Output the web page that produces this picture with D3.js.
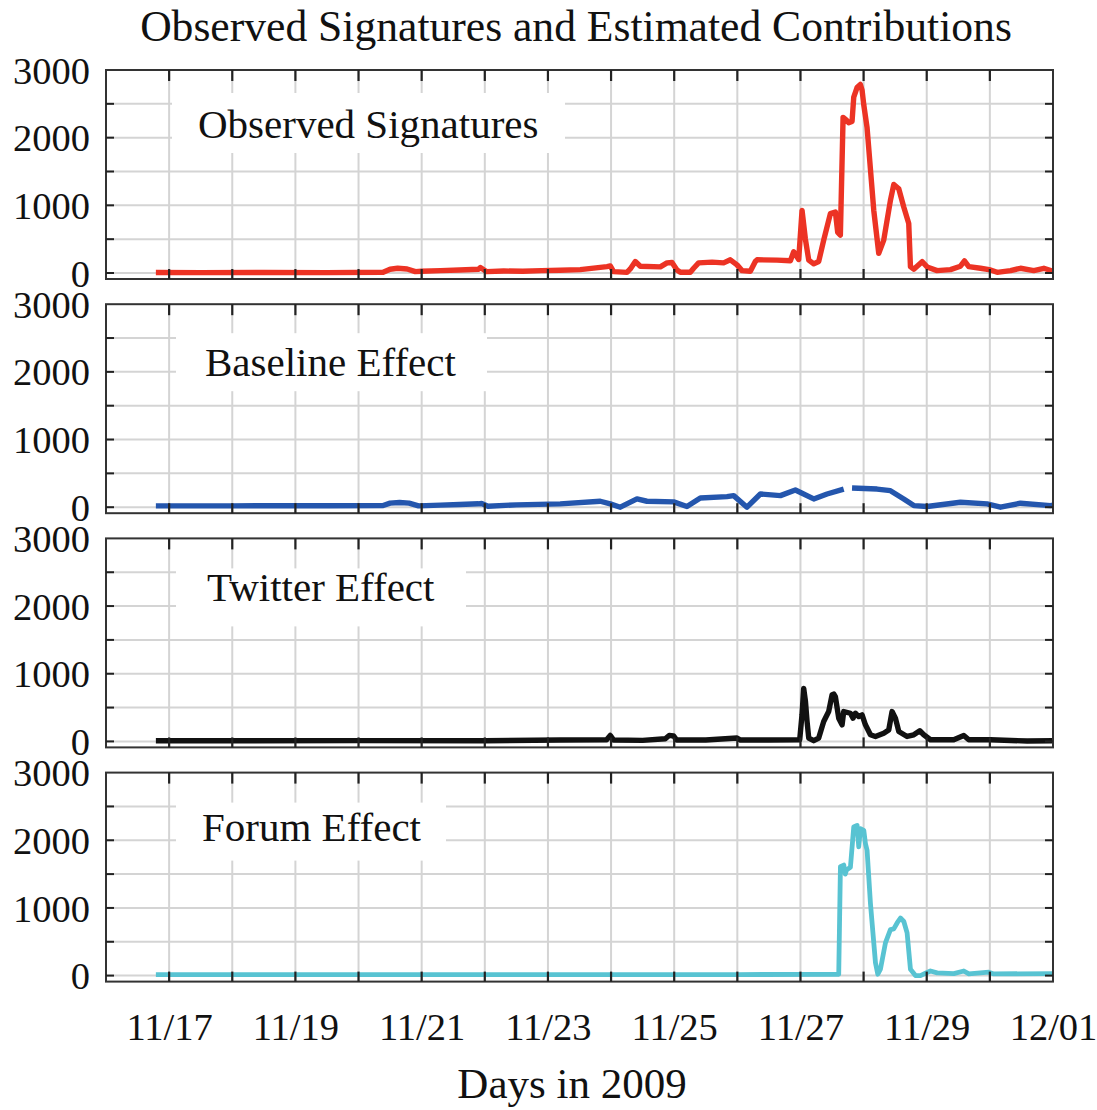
<!DOCTYPE html>
<html><head><meta charset="utf-8">
<script src="https://cdn.jsdelivr.net/npm/d3@7/dist/d3.min.js"></script>
<style>
body{margin:0;background:#fff}
text{font-family:"Liberation Serif","Times New Roman",serif;fill:#111}
</style>
</head><body>
<svg id="chart" width="1097" height="1110"></svg>
<script>
// ---------- data (time = days after 2009-11-16 00:00) ----------
const chartTitle = "Observed Signatures and Estimated Contributions";
const xAxisTitle = "Days in 2009";
const panelNames = ["Observed Signatures", "Baseline Effect", "Twitter Effect", "Forum Effect"];
const panelColors = ["#ec3324", "#2456ad", "#111111", "#58c3d2"];
const yTickLabels = [0, 1000, 2000, 3000];
const xTickLabelDays = ["2009-11-17","2009-11-19","2009-11-21","2009-11-23","2009-11-25","2009-11-27","2009-11-29","2009-12-01"];

const observedT = [0.79,1.5,2.5,3.5,4.39,4.5,4.62,4.77,4.9,5.0,5.3,5.6,5.9,5.93,6.03,6.3,6.6,6.9,7.195,7.512,7.935,7.987,8.040,8.252,8.304,8.384,8.463,8.780,8.886,8.965,9.044,9.097,9.255,9.308,9.387,9.6,9.783,9.889,9.995,10.074,10.206,10.285,10.312,10.629,10.840,10.893,10.972,11.025,11.078,11.131,11.210,11.289,11.368,11.474,11.553,11.590,11.632,11.675,11.727,11.764,11.817,11.844,11.896,11.949,11.976,12.002,12.055,12.161,12.240,12.319,12.425,12.478,12.557,12.636,12.715,12.742,12.795,12.927,13.006,13.164,13.376,13.534,13.598,13.666,13.851,14.010,14.115,14.327,14.485,14.696,14.855,15.0];
const observedV = [8,5,8,5,10,55,70,60,20,25,35,45,55,80,20,30,25,35,40,50,95,105,20,10,60,170,100,90,150,155,45,10,10,70,150,160,150,195,120,35,25,170,195,190,180,315,200,926,500,190,135,170,486,877,902,600,560,2300,2260,2222,2240,2600,2740,2786,2700,2490,2148,926,290,486,1073,1308,1244,975,731,95,56,168,90,35,50,100,178,95,70,45,10,35,70,35,70,25];

const baselineT = [0.79,2.0,3.5,4.39,4.5,4.65,4.8,4.95,5.3,5.6,5.9,5.95,6.05,6.5,7.195,7.829,7.987,8.146,8.410,8.568,8.991,9.202,9.414,9.836,9.942,10.153,10.365,10.682,10.919,11.210,11.421,11.685,11.75,11.817,12.213,12.425,12.636,12.795,13.006,13.534,13.957,14.168,14.485,14.960,15.0];
const baselineV = [20,20,22,25,60,70,60,20,30,40,50,55,15,35,49,88,49,0,122,88,78,10,137,156,171,0,195,171,254,122,195,268,null,283,268,244,122,24,10,73,49,0,59,24,30];

const twitterT = [0.79,2.0,4.0,6.0,7.195,7.93,7.987,8.04,8.5,8.859,8.92,8.99,9.04,9.5,9.995,10.05,10.5,10.988,11.025,11.051,11.078,11.104,11.131,11.210,11.289,11.368,11.447,11.500,11.527,11.553,11.606,11.659,11.685,11.791,11.833,11.870,11.923,11.976,12.029,12.108,12.187,12.319,12.398,12.451,12.504,12.557,12.689,12.795,12.890,12.953,13.059,13.428,13.587,13.666,14.010,14.59,15.0];
const twitterV = [10,10,12,10,20,25,88,20,15,40,88,80,20,20,50,20,20,25,400,784,600,300,49,10,49,294,441,686,700,662,343,245,441,416,343,416,367,392,245,98,73,122,170,441,343,147,73,98,157,98,25,25,88,25,25,5,10];

const forumT = [0.79,5,10,11.606,11.633,11.686,11.710,11.728,11.791,11.844,11.897,11.923,11.950,12.003,12.029,12.055,12.108,12.188,12.225,12.267,12.346,12.425,12.478,12.531,12.584,12.637,12.689,12.742,12.821,12.901,12.980,13.059,13.165,13.429,13.587,13.667,13.984,14.063,15.0];
const forumV = [15,15,15,20,1609,1633,1500,1560,1600,2196,2220,1902,2171,2147,1950,1853,1071,191,20,95,484,680,690,778,851,800,631,93,0,0,34,68,40,30,68,25,50,25,30];

const seriesT = [observedT, baselineT, twitterT, forumT];
const seriesV = [observedV, baselineV, twitterV, forumV];

// ---------- layout ----------
const left = 106, right = 1053;
const panelTop0 = 70, panelStep = 234.2, plotH = 203, frameExtra = 6;
const legendBoxes = [[172,23,565,83],[176,29,487,87],[176,30,466,88],[176,30,446,88]];
const legendTextX = [198, 205, 207, 202];
const legendBaselines = [68, 72, 63, 68];

const svg = d3.select("#chart");
const t0 = Date.UTC(2009,10,16);
const toDate = d => new Date(t0 + d*86400000);
const x = d3.scaleUtc().domain([toDate(0), toDate(15)]).range([left, right]);
const dayGrid = d3.utcDay.range(toDate(0), toDate(15.01));
const serif = '"Liberation Serif","Times New Roman",serif';

svg.append("text").attr("x", 576).attr("y", 41).attr("text-anchor","middle")
  .style("font-size","43.6px").text(chartTitle);

panelNames.forEach((name, i) => {
  const top = panelTop0 + i*panelStep;
  const zero = top + plotH;
  const bottom = zero + frameExtra;
  const y = d3.scaleLinear().domain([0,3000]).range([zero, top]);
  const g = svg.append("g");

  const yGrid = d3.range(0, 3001, 500);
  g.selectAll(".hg").data(yGrid.slice(0,-1)).join("line")
    .attr("x1", left).attr("x2", right).attr("y1", d=>y(d)).attr("y2", d=>y(d))
    .attr("stroke","#d4d4d4").attr("stroke-width",2);
  g.selectAll(".vg").data(dayGrid.slice(1,-1)).join("line")
    .attr("x1", d=>x(d)).attr("x2", d=>x(d)).attr("y1", top).attr("y2", bottom)
    .attr("stroke","#d4d4d4").attr("stroke-width",2);

  const lb = legendBoxes[i];
  g.append("rect").attr("x", lb[0]).attr("y", top+lb[1]).attr("width", lb[2]-lb[0]).attr("height", lb[3]-lb[1]).attr("fill","#fff");
  g.append("text").attr("x", legendTextX[i]).attr("y", top+legendBaselines[i]).style("font-size","41px").text(name);

  const pts = seriesT[i].map((t,k)=>({t, v: seriesV[i][k]}));
  const line = d3.line().defined(d=>d.v!==null).x(d=>x(toDate(d.t))).y(d=>y(d.v));
  g.append("path").attr("d", line(pts)).attr("fill","none")
    .attr("stroke", panelColors[i]).attr("stroke-width", i===3?4.8:5.4)
    .attr("stroke-linejoin","round").attr("stroke-linecap","butt");

  g.append("rect").attr("x", left).attr("y", top).attr("width", right-left).attr("height", bottom-top)
    .attr("fill","none").attr("stroke","#333").attr("stroke-width",2);

  g.selectAll(".tt").data(dayGrid.slice(1,-1)).join("line")
    .attr("x1", d=>x(d)).attr("x2", d=>x(d)).attr("y1", top).attr("y2", top+11)
    .attr("stroke","#222").attr("stroke-width",2.2);
  g.selectAll(".bt").data(dayGrid.slice(1,-1)).join("line")
    .attr("x1", d=>x(d)).attr("x2", d=>x(d)).attr("y1", bottom).attr("y2", bottom-10)
    .attr("stroke","#222").attr("stroke-width",2.2);
  g.selectAll(".lt").data(yGrid.slice(0,-1)).join("line")
    .attr("x1", left).attr("x2", left+8).attr("y1", d=>y(d)).attr("y2", d=>y(d))
    .attr("stroke","#222").attr("stroke-width",2);
  g.selectAll(".rt").data(yGrid.slice(0,-1)).join("line")
    .attr("x1", right).attr("x2", right-8).attr("y1", d=>y(d)).attr("y2", d=>y(d))
    .attr("stroke","#222").attr("stroke-width",2);

  const ya = d3.axisLeft(y).tickValues(yTickLabels).tickSize(0).tickPadding(16).tickFormat(d3.format("d"));
  const yg = svg.append("g").attr("transform",`translate(${left},0)`).call(ya);
  yg.select(".domain").remove();
  yg.selectAll("text").style("font-size","38.5px").style("font-family",serif).attr("fill","#111").attr("dy","0.34em");
});

const xa = d3.axisBottom(x).tickValues(xTickLabelDays.map(s=>new Date(s+"T00:00:00Z"))).tickSize(0).tickPadding(0).tickFormat(d3.utcFormat("%m/%d"));
const xg = svg.append("g").attr("transform","translate(0,1040)").call(xa);
xg.select(".domain").remove();
xg.selectAll("text").style("font-size","38.5px").style("font-family",serif).attr("fill","#111").attr("dy","0").attr("y",0);

svg.append("text").attr("x", 572).attr("y", 1098).attr("text-anchor","middle")
  .style("font-size","43px").text(xAxisTitle);
</script>
</body></html>
